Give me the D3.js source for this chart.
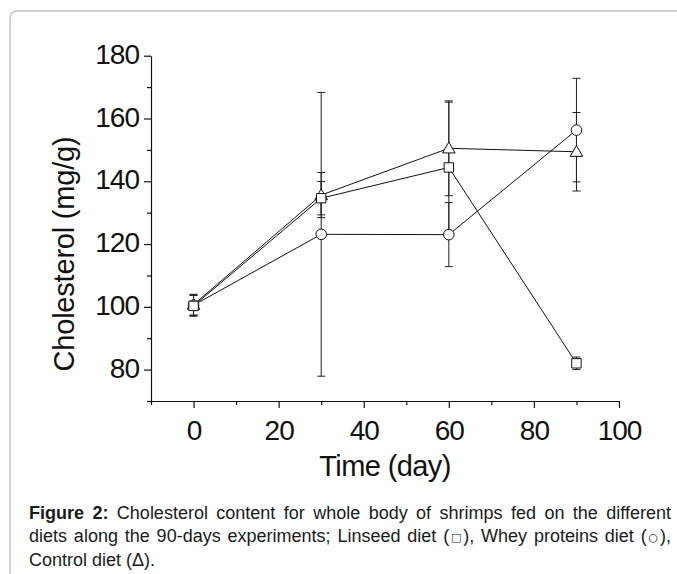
<!DOCTYPE html>
<html>
<head>
<meta charset="utf-8">
<script src="https://cdn.jsdelivr.net/npm/d3@7"></script>
<style>
  body { margin: 0; background: #fff; }
  #wrap { position: relative; width: 677px; height: 574px; overflow: hidden; }
  svg { position: absolute; left: 0; top: 0; }
  .cap { position: absolute; left: 29px; width: 642px; font-family: "Liberation Sans", Arial, sans-serif;
         font-size: 18px; line-height: 22.6px; color: #1a1a1a; }
  .cap div.j { text-align: justify; text-align-last: justify; }
  .cap .sm { font-family: "DejaVu Sans", sans-serif; font-size: 11px; vertical-align: 1px; }
</style>
</head>
<body>
<div id="wrap">
<svg width="677" height="574"></svg>
<div class="cap" style="top:502px">
  <div class="j"><b>Figure 2:</b> Cholesterol content for whole body of shrimps fed on the different</div>
  <div class="j">diets along the 90-days experiments; Linseed diet (<span class="sm">□</span>), Whey proteins diet (<span class="sm">○</span>),</div>
  <div>Control diet (Δ).</div>
</div>
</div>
<script>
const svg = d3.select("svg");

// data
const days = [0, 30, 60, 90];
const linseed = [100.3, 134.6, 144.4, 82.0];
const linseedErr = [3.3, 5.3, 20.8, 2.0];
const whey = [100.5, 123.1, 123.0, 156.3];
const wheyErr = [3.3, 45.2, 10.2, 16.5];
const control = [100.7, 135.6, 150.5, 149.4];
const controlErr = [3.3, 7.2, 15.1, 12.5];
const xTicks = [0, 20, 40, 60, 80, 100];
const yTicks = [80, 100, 120, 140, 160, 180];

const margin = {left: 151, top: 55.7, right: 619, bottom: 401};
const font = '"Liberation Sans", Arial, sans-serif';

// frame round the figure
svg.append("path")
  .attr("d", "M10,700 L10,19 Q10,11 18,11 L700,11")
  .attr("fill", "none")
  .attr("stroke", "#c4c4c4")
  .attr("stroke-width", 1.5);

const x = d3.scaleLinear().domain([-10, 100]).range([margin.left, margin.right]);
const y = d3.scaleLinear().domain([70, 180]).range([margin.bottom, margin.top]);

// axes
const xAxis = svg.append("g").attr("transform", `translate(0,${margin.bottom})`)
  .call(d3.axisBottom(x).tickValues(xTicks).tickSize(7).tickSizeOuter(0).tickPadding(7));
xAxis.append("g").call(d3.axisBottom(x).tickValues(d3.range(-10, 100, 20)).tickSize(4).tickFormat(""))
  .select(".domain").remove();

const yAxis = svg.append("g").attr("transform", `translate(${margin.left},0)`)
  .call(d3.axisLeft(y).tickValues(yTicks).tickSize(7).tickSizeOuter(0).tickPadding(5));
yAxis.append("g").call(d3.axisLeft(y).tickValues(d3.range(70, 180, 20)).tickSize(4).tickFormat(""))
  .select(".domain").remove();

svg.selectAll(".domain, .tick line").attr("stroke", "#111").attr("stroke-width", 1.2);
xAxis.selectAll(".tick text")
  .attr("font-family", font).attr("font-size", 28).attr("letter-spacing", "-1px")
  .attr("fill", "#111").attr("dy", "0.9em");
yAxis.selectAll(".tick text")
  .attr("font-family", font).attr("font-size", 28).attr("letter-spacing", "-1px")
  .attr("fill", "#111").attr("dy", "0.27em");

// axis titles
svg.append("text")
  .attr("x", 385).attr("y", 476)
  .attr("text-anchor", "middle")
  .attr("font-family", font).attr("font-size", 29).attr("letter-spacing", "-0.6px")
  .attr("fill", "#111")
  .text("Time (day)");

svg.append("text")
  .attr("transform", "translate(74,254) rotate(-90)")
  .attr("text-anchor", "middle")
  .attr("font-family", font).attr("font-size", 29).attr("letter-spacing", "-0.2px")
  .attr("fill", "#111")
  .text("Cholesterol (mg/g)");

const series = [
  {vals: control, err: controlErr, sym: d3.symbolTriangle, size: 68},
  {vals: whey, err: wheyErr, sym: d3.symbolCircle, size: 88},
  {vals: linseed, err: linseedErr, sym: d3.symbolSquare, size: 88}
];

const line = d3.line().x((d, i) => x(days[i])).y(d => y(d));

series.forEach(s => {
  svg.append("path")
    .attr("d", line(s.vals))
    .attr("fill", "none")
    .attr("stroke", "#111")
    .attr("stroke-width", 1);
});

series.forEach(s => {
  const g = svg.append("g").attr("stroke", "#222").attr("stroke-width", 1);
  s.vals.forEach((v, i) => {
    const cx = x(days[i]);
    g.append("line").attr("x1", cx).attr("x2", cx)
      .attr("y1", y(v - s.err[i])).attr("y2", y(v + s.err[i]));
    [v - s.err[i], v + s.err[i]].forEach(e => {
      g.append("line").attr("x1", cx - 4).attr("x2", cx + 4)
        .attr("y1", y(e)).attr("y2", y(e));
    });
  });
});

series.forEach(s => {
  svg.selectAll(null)
    .data(s.vals)
    .enter()
    .append("path")
    .attr("d", d3.symbol().type(s.sym).size(s.size))
    .attr("transform", (d, i) => `translate(${x(days[i])},${y(d) + (s.sym === d3.symbolTriangle ? 1 : 0)})`)
    .attr("fill", "#fff")
    .attr("stroke", "#111")
    .attr("stroke-width", 1);
});
</script>
</body>
</html>
